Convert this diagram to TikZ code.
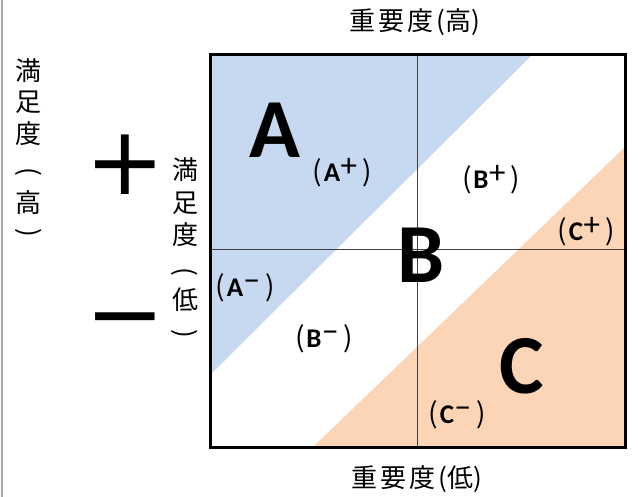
\documentclass[tikz,border=0pt]{standalone}
\usepackage{fontspec}
\setmainfont{Carlito}
\newfontfamily\cjk{Noto Sans CJK JP}
\newfontfamily\dejavu{DejaVu Sans}
\definecolor{qblue}{RGB}{198,217,240}
\definecolor{qorange}{RGB}{251,213,181}
\newcommand\sublab[2]{{\cjk\fontsize{28}{28}\selectfont (}\hspace{2pt}{\bfseries\fontsize{27}{27}\selectfont #1}\hspace{0.5pt}\raisebox{5pt}{\fontsize{33}{33}\selectfont #2}\hspace{5pt}{\cjk\fontsize{28}{28}\selectfont )}}
\begin{document}
\begin{tikzpicture}[x=1pt,y=-1pt,
  every node/.style={inner sep=0pt,outer sep=0pt},
  cjklab/.style={font=\cjk\fontsize{26}{26}\selectfont},
  vparen/.style={font=\cjk\fontsize{26}{26}\selectfont, rotate=-90},
  bigletter/.style={font=\bfseries\fontsize{84}{84}\selectfont},
  sign/.style={font=\dejavu\fontsize{95}{95}\selectfont},
  gridline/.style={line width=0.9pt, black!75},
  frame/.style={line width=3pt, black}]
\useasboundingbox (0,0) rectangle (638,497);
\fill[white] (0,0) rectangle (638,497);
\draw[gray!70, line width=1.2pt] (2,0) -- (2,497);
% quadrant frame
\coordinate (tl) at (210,55);
\coordinate (tr) at (625,55);
\coordinate (br) at (625,447);
\coordinate (bl) at (210,447);
\coordinate (blueTop) at (532,55);
\coordinate (blueLeft) at (210,375);
\coordinate (orRight) at (625,147);
\coordinate (orBottom) at (313,447);
\coordinate (vTop) at (417,55);
\coordinate (vBot) at (417,447);
\coordinate (hL) at (210,249);
\coordinate (hR) at (625,249);
\fill[qblue] (tl) -- (blueTop) -- (blueLeft) -- cycle;
\fill[qorange] (orRight) -- (br) -- (orBottom) -- cycle;
\draw[gridline] (vTop) -- (vBot);
\draw[gridline] (hL) -- (hR);
\draw[frame] (tl) rectangle (br);
% axis labels
\node[cjklab] (top) at (415,22) {重\kern3pt 要\kern3pt 度\kern3pt(高)};
\node[cjklab] (bottom) at (417,479) {重\kern3pt 要\kern3pt 度\kern3pt(低)};
% left outer vertical label
\node[cjklab] (l1) at (29,71) {満};
\node[cjklab] (l2) at (29,102) {足};
\node[cjklab] (l3) at (29,134) {度};
\node[vparen] (l4) at (29,172) {(};
\node[cjklab] (l5) at (29,203) {高};
\node[vparen] (l6) at (29,233) {)};
% inner vertical label
\node[cjklab] (m1) at (185,170) {満};
\node[cjklab] (m2) at (185,203) {足};
\node[cjklab] (m3) at (185,235) {度};
\node[vparen] (m4) at (185,272) {(};
\node[cjklab] (m5) at (185,300) {低};
\node[vparen] (m6) at (185,334) {)};
% signs
\node[sign] (plus) at (125,165) {+};
\node[sign] (minus) at (125,330) {−};
% big letters
\node[bigletter] (A) at (275,130) {A};
\node[bigletter] (B) at (421,255) {B};
\node[bigletter] (C) at (522,366) {C};
% sub labels
\node (Ap) at (342,173) {\sublab{A}{+}};
\node (Bp) at (491,180) {\sublab{B}{+}};
\node (Cp) at (586,232) {\sublab{C}{+}};
\node (Am) at (245,288) {\sublab{A}{−}};
\node (Bm) at (324,339) {\sublab{B}{−}};
\node (Cm) at (457,415) {\sublab{C}{−}};
\end{tikzpicture}
\end{document}
